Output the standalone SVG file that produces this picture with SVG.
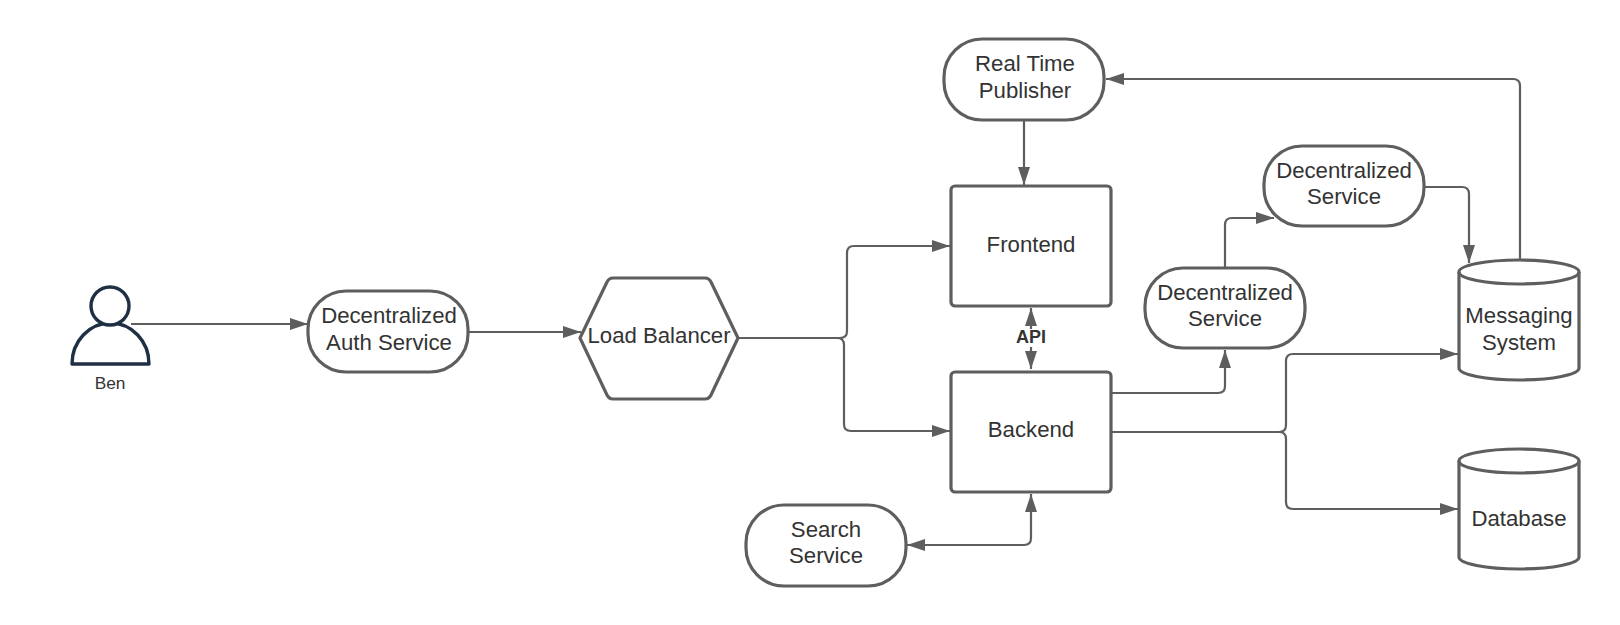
<svg xmlns="http://www.w3.org/2000/svg" width="1620" height="625" viewBox="0 0 1620 625">
<style>
text{font-family:"Liberation Sans",Arial,sans-serif;font-size:22.2px;fill:#333;text-anchor:middle}
.s{fill:#fff;stroke:#5e5e5e;stroke-width:3.2;stroke-linejoin:round}
.c{fill:none;stroke:#5e5e5e;stroke-width:2.2}
</style>
<defs>
<marker id="a" markerUnits="userSpaceOnUse" markerWidth="20" markerHeight="14" refX="18" refY="7" orient="auto-start-reverse"><path d="M0 1L18 7L0 13Z" fill="#5e5e5e"/></marker>
</defs>
<g id="ben">
<path d="M72 364A38.500 41 0 0 1 149 364Z" fill="#fff" stroke="#1f2f44" stroke-width="3.400" stroke-linejoin="round"/>
<circle cx="110" cy="306" r="19" fill="#fff" stroke="#1f2f44" stroke-width="3.400"/>
<text x="110" y="389" style="font-size:17.300px">Ben</text>
</g>
<g id="auth"><rect class="s" x="308" y="291" width="160" height="81" rx="38"/><text x="389" y="323">Decentralized</text><text x="389" y="350">Auth Service</text></g>
<g id="lb"><path class="s" d="M580 338L607 282Q609 278 613 278H705Q709 278 711 282L738 338L711 395Q709 399 705 399H613Q609 399 607 395Z"/><text x="659" y="343">Load Balancer</text></g>
<g id="frontend"><rect class="s" x="951" y="186" width="160" height="120" rx="4"/><text x="1031" y="252">Frontend</text></g>
<g id="backend"><rect class="s" x="951" y="372" width="160" height="120" rx="4"/><text x="1031" y="437">Backend</text></g>
<g id="rtp"><rect class="s" x="944" y="39" width="160" height="81" rx="38"/><text x="1025" y="71">Real Time</text><text x="1025" y="98">Publisher</text></g>
<g id="ds1"><rect class="s" x="1264" y="146" width="160" height="80" rx="38"/><text x="1344" y="178">Decentralized</text><text x="1344" y="204">Service</text></g>
<g id="ds2"><rect class="s" x="1145" y="268" width="160" height="80" rx="38"/><text x="1225" y="300">Decentralized</text><text x="1225" y="326">Service</text></g>
<g id="search"><rect class="s" x="746" y="505" width="160" height="81" rx="38"/><text x="826" y="537">Search</text><text x="826" y="563">Service</text></g>
<g id="messaging"><path class="s" d="M1459 272A60 12 0 0 1 1579 272V368A60 12 0 0 1 1459 368Z"/><path class="s" d="M1459 272A60 12 0 0 0 1579 272" style="fill:none"/><text x="1519" y="323">Messaging</text><text x="1519" y="350">System</text></g>
<g id="database"><path class="s" d="M1459 461A60 12 0 0 1 1579 461V557A60 12 0 0 1 1459 557Z"/><path class="s" d="M1459 461A60 12 0 0 0 1579 461" style="fill:none"/><text x="1519" y="526">Database</text></g>
<g id="connectors">
<path class="c" marker-end="url(#a)" d="M131 324H308"/>
<path class="c" marker-end="url(#a)" d="M469 332H581"/>
<path class="c" marker-end="url(#a)" d="M739 338H840Q847 338 847 331V253Q847 246 854 246H950"/>
<path class="c" marker-end="url(#a)" d="M739 338H837Q844 338 844 345V424Q844 431 851 431H950"/>
<path class="c" marker-end="url(#a)" d="M1031 330V308"/>
<path class="c" marker-end="url(#a)" d="M1031 347V369"/>
<path class="c" marker-end="url(#a)" d="M1024 120V185"/>
<path class="c" marker-end="url(#a)" d="M1112 393H1218Q1225 393 1225 386V350"/>
<path class="c" marker-end="url(#a)" d="M1225 268V225Q1225 218 1232 218H1274"/>
<path class="c" marker-end="url(#a)" d="M1424 187H1462Q1469 187 1469 194V263"/>
<path class="c" marker-end="url(#a)" d="M1520 260V86Q1520 79 1513 79H1106"/>
<path class="c" marker-end="url(#a)" d="M1112 432H1279Q1286 432 1286 425V361Q1286 354 1293 354H1458"/>
<path class="c" marker-end="url(#a)" d="M1112 432H1279Q1286 432 1286 439V502Q1286 509 1293 509H1458"/>
<path class="c" marker-start="url(#a)" marker-end="url(#a)" d="M1031 494V538Q1031 545 1024 545H907"/>
</g>
<g id="api"><rect x="1015" y="329" width="32" height="17" fill="#fff"/><text x="1031" y="342.500" style="font-size:18px;font-weight:bold">API</text></g>
</svg>
